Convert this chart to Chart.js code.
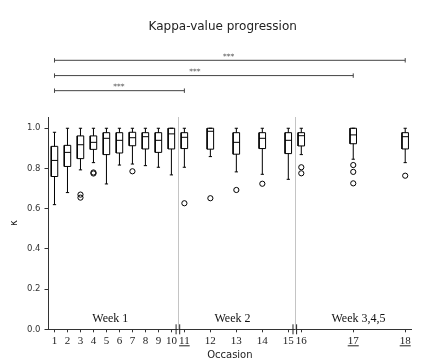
<!DOCTYPE html>
<html><head><meta charset="utf-8">
<script src="https://cdn.jsdelivr.net/npm/chart.js@4.4.0/dist/chart.umd.min.js"></script>
<style>html,body{margin:0;padding:0;background:#fff}canvas{display:block}</style>
</head><body>
<canvas id="c" width="430" height="363"></canvas>
<script>
// ---- data ----
const chartTitle = 'Kappa-value progression';
const occasionLabels = ['1','2','3','4','5','6','7','8','9','10','11','12','13','14','15','16','17','18'];
const occasionPos    = [1,2,3,4,5,6,7,8,9,10,11,13,15,17,19,20,24,28];
const underlined     = ['11','17','18'];
const whiskerLow  = [0.62,0.68,0.793,0.829,0.723,0.817,0.822,0.814,0.806,0.768,0.806,0.859,0.783,0.771,0.746,0.869,0.846,0.829];
const quart1      = [0.76,0.81,0.849,0.895,0.869,0.877,0.913,0.897,0.880,0.897,0.899,0.896,0.871,0.899,0.874,0.912,0.923,0.897];
const medians     = [0.84,0.88,0.918,0.930,0.950,0.940,0.953,0.958,0.940,0.972,0.955,0.985,0.930,0.950,0.940,0.963,0.967,0.958];
const quart3      = [0.91,0.915,0.962,0.962,0.978,0.978,0.980,0.978,0.978,1.0,0.978,1.0,0.978,0.978,0.978,0.978,1.0,0.978];
const whiskerHigh = [0.98,1.0,1.0,1.0,1.0,1.0,1.0,1.0,1.0,1.0,1.0,1.0,1.0,1.0,1.0,1.0,1.0,1.0];
const outliers    = [[],[],[0.67,0.655],[0.78,0.775],[],[],[0.786],[],[],[],[0.627],[0.652],[0.693],[0.724],[],[0.806,0.776],[0.817,0.783,0.726],[0.764]];
const yTicks = [0,0.2,0.4,0.6,0.8,1.0];
const sigFrom   = [1,1,1];
const sigTo     = [28,24,11];
const sigHeight = [1.338,1.262,1.187];
const sigLabel  = ['***','***','***'];
const sigLabelX = [14.4,11.8,5.95];
const weekLabels = ['Week 1','Week 2','Week 3,4,5'];
const weekX      = [5.3,14.7,24.4];
const weekY      = [0.053,0.053,0.053];
const breaks     = [10.5,19.5];

// ---- build datasets from data ----
const HW = 0.25, CW = 0.125, SIG_CAP = 0.011;
const boxPts = [], medPts = [], whiskPts = [], capPts = [], flierPts = [], sigPts = [];
occasionPos.forEach((x,i)=>{
  boxPts.push({x:x-HW,y:quart1[i]},{x:x+HW,y:quart1[i]},{x:x+HW,y:quart3[i]},{x:x-HW,y:quart3[i]},{x:x-HW,y:quart1[i]},{x:x,y:null});
  medPts.push({x:x-HW,y:medians[i]},{x:x+HW,y:medians[i]},{x:x,y:null});
  whiskPts.push({x:x,y:whiskerLow[i]},{x:x,y:quart1[i]},{x:x,y:null},{x:x,y:quart3[i]},{x:x,y:whiskerHigh[i]},{x:x,y:null});
  capPts.push({x:x-CW,y:whiskerLow[i]},{x:x+CW,y:whiskerLow[i]},{x:x,y:null},{x:x-CW,y:whiskerHigh[i]},{x:x+CW,y:whiskerHigh[i]},{x:x,y:null});
  outliers[i].forEach(v=>flierPts.push({x:x,y:v}));
});
sigFrom.forEach((f,i)=>{
  const h = sigHeight[i], t = sigTo[i];
  sigPts.push({x:f,y:h},{x:t,y:h},{x:f,y:null},
              {x:f,y:h-SIG_CAP},{x:f,y:h+SIG_CAP},{x:f,y:null},
              {x:t,y:h-SIG_CAP},{x:t,y:h+SIG_CAP},{x:t,y:null});
});
function lineDs(data,color){
  return {data, showLine:true, spanGaps:false, borderColor:color, borderWidth:1, pointRadius:0, tension:0, fill:false};
}

const extras = {
  id:'extras',
  beforeDatasetsDraw(chart){
    const {ctx, chartArea:a, scales:{x}} = chart;
    ctx.save();
    ctx.strokeStyle = '#c4c4c4'; ctx.lineWidth = 1;
    breaks.forEach(b=>{
      const px = Math.round(x.getPixelForValue(b))+0.5;
      ctx.beginPath(); ctx.moveTo(px,a.top); ctx.lineTo(px,a.bottom); ctx.stroke();
    });
    ctx.restore();
  },
  afterDraw(chart){
    const {ctx, chartArea:a, scales:{x,y}} = chart;
    ctx.save();
    // title
    ctx.fillStyle = '#222';
    ctx.font = '12px "DejaVu Sans"';
    ctx.textAlign = 'center'; ctx.textBaseline = 'middle';
    ctx.fillText(chartTitle, 222.7, 27);
    // significance labels
    ctx.fillStyle = '#555';
    ctx.font = '7.5px "DejaVu Sans"';
    ctx.textBaseline = 'alphabetic';
    sigLabel.forEach((t,i)=>{
      ctx.fillText(t, x.getPixelForValue(sigLabelX[i]), y.getPixelForValue(sigHeight[i]) - 1.5);
    });
    // week labels
    ctx.fillStyle = '#111';
    ctx.font = '12px "Liberation Serif"';
    ctx.textBaseline = 'middle';
    weekLabels.forEach((t,i)=>{
      ctx.fillText(t, x.getPixelForValue(weekX[i]), y.getPixelForValue(weekY[i]));
    });
    // axis break marks
    ctx.strokeStyle = '#222'; ctx.lineWidth = 1;
    breaks.forEach(b=>{
      const px = x.getPixelForValue(b);
      [-1.8,1.8].forEach(d=>{
        ctx.beginPath(); ctx.moveTo(px+d,a.bottom-5); ctx.lineTo(px+d,a.bottom+5); ctx.stroke();
      });
    });
    // underlines
    ctx.font = '11px "Liberation Serif"';
    ctx.strokeStyle = '#222';
    occasionLabels.forEach((l,i)=>{
      if(underlined.includes(l)){
        const px = x.getPixelForValue(occasionPos[i]);
        const w = ctx.measureText(l).width;
        const uy = a.bottom + 16.5;
        ctx.beginPath(); ctx.moveTo(px-w/2,uy); ctx.lineTo(px+w/2,uy); ctx.stroke();
      }
    });
    ctx.restore();
  }
};

new Chart(document.getElementById('c'), {
  type:'scatter',
  data:{datasets:[
    lineDs(boxPts,'#000'),
    lineDs(medPts,'#000'),
    lineDs(whiskPts,'#000'),
    lineDs(capPts,'#000'),
    {data:flierPts, showLine:false, pointStyle:'circle', pointRadius:2.6, pointBorderWidth:1, pointBorderColor:'#000', pointBackgroundColor:'rgba(0,0,0,0)'},
    Object.assign(lineDs(sigPts,'#444'), {clip:false})
  ]},
  options:{
    responsive:false, animation:false, events:[], devicePixelRatio:1,
    layout:{padding:{left:0,right:18.3,top:117,bottom:0}},
    plugins:{legend:{display:false}, tooltip:{enabled:false}, title:{display:false}},
    scales:{
      x:{type:'linear', min:0.5, max:28.5,
        afterBuildTicks:s=>{s.ticks = occasionPos.map(v=>({value:v}));},
        afterFit:s=>{s.height = 33.7;},
        ticks:{autoSkip:false, maxRotation:0, callback:(v,i)=>occasionLabels[i], font:{family:'Liberation Serif', size:11}, color:'#222', padding:2},
        grid:{drawOnChartArea:false, drawTicks:true, tickLength:3, color:'#333'},
        border:{display:true, color:'#333', width:1},
        title:{display:true, text:'Occasion', font:{family:'DejaVu Sans', size:10}, color:'#222', padding:{top:0,bottom:2}}
      },
      y:{type:'linear', min:0, max:1.056,
        afterBuildTicks:s=>{s.ticks = yTicks.map(v=>({value:v}));},
        afterFit:s=>{s.width = 48;},
        ticks:{callback:v=>v.toFixed(1), font:{family:'DejaVu Sans', size:8.5}, color:'#333', padding:4},
        grid:{drawOnChartArea:false, drawTicks:true, tickLength:3.5, color:'#333'},
        border:{display:true, color:'#333', width:1},
        title:{display:true, text:'κ', font:{family:'DejaVu Sans', size:10}, color:'#222', padding:{top:8,bottom:0}}
      }
    }
  },
  plugins:[extras]
});
</script>
</body></html>
